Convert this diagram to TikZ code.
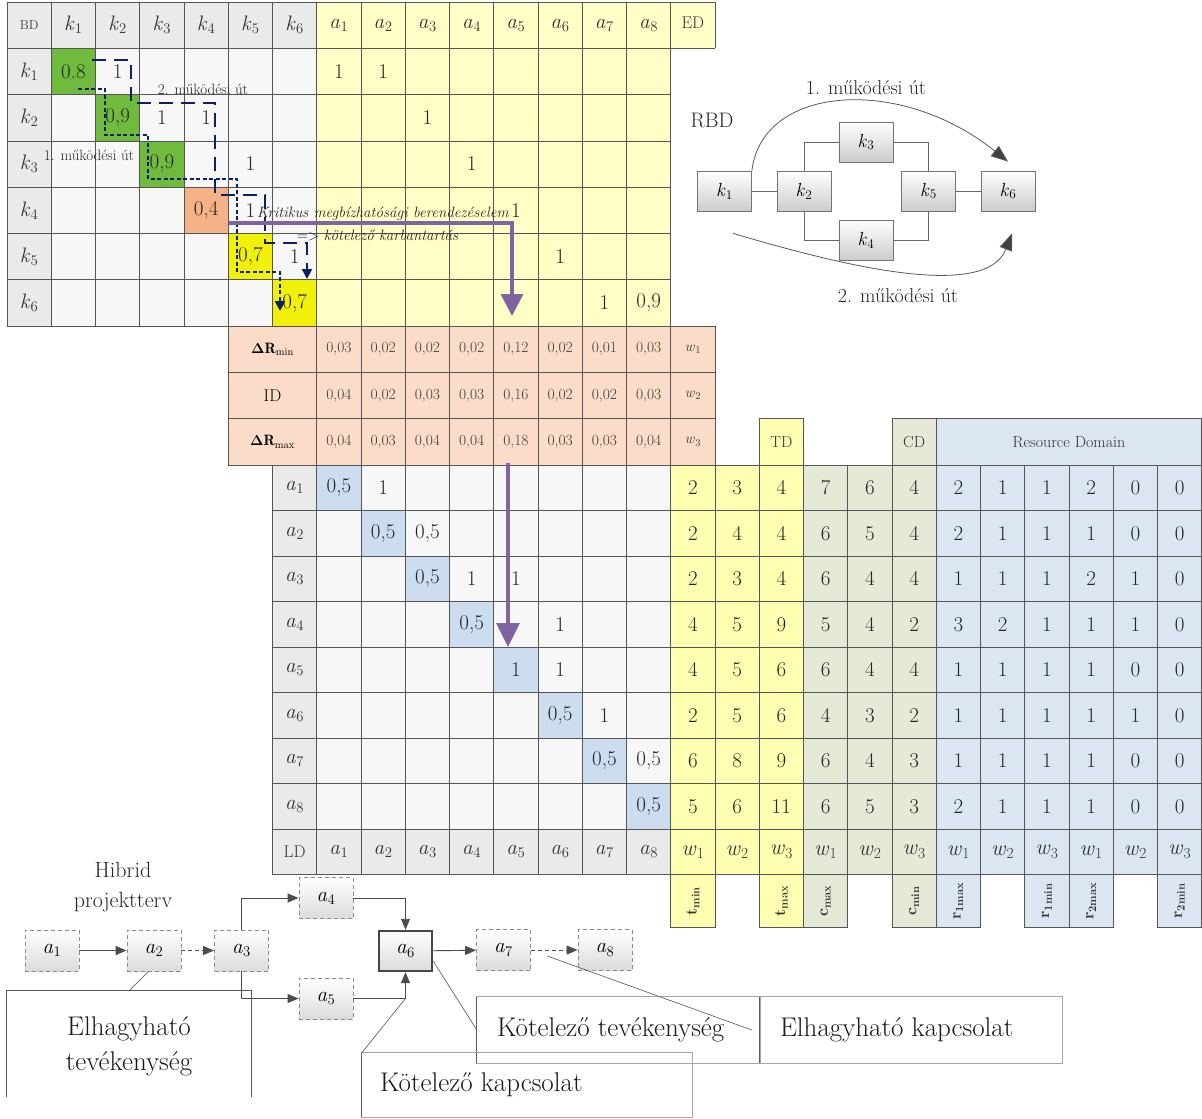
\documentclass[tikz,border=0pt]{standalone}
\usepackage{fontspec}
\usepackage{amsmath}
\usetikzlibrary{arrows.meta,calc}
\definecolor{yel}{RGB}{255,255,198}
\definecolor{yelT}{RGB}{255,255,178}
\definecolor{grn}{RGB}{112,186,62}
\definecolor{org}{RGB}{244,178,134}
\definecolor{yelB}{RGB}{240,240,10}
\definecolor{peach}{RGB}{250,220,200}
\definecolor{cgr}{RGB}{229,233,214}
\definecolor{rbl}{RGB}{219,230,242}
\definecolor{dbl}{RGB}{204,221,240}
\definecolor{purp}{RGB}{128,100,162}
\definecolor{navy}{RGB}{12,32,100}
\definecolor{hdr}{RGB}{234,234,234}
\definecolor{cel}{RGB}{247,247,247}
\definecolor{gl}{RGB}{85,85,85}
\newcommand\fs[1]{\fontsize{#1}{#1}\selectfont}
\newcommand\fsl[2]{\fontsize{#1}{#2}\selectfont}
\newcommand\ix[2]{\textit{#1}\kern0.3pt\textsubscript{#2}}
\newcommand\bx[2]{\textbf{#1}\textsubscript{\bfseries #2}}
\newcommand\colX[1]{(7+44.25*(#1))}
\newcommand\topY[1]{(2+46.3*(#1))}
\newcommand\lowY[1]{(465+45.5*(#1))}
\newcommand\tval[3]{\node[num] (t-#1-#2) at ({\colX{#2+0.5}},{\topY{#1+0.5}}) {#3};}
\newcommand\lval[3]{\node[num] (l-#1-#2) at ({\colX{#2+0.5}},{\lowY{#1+0.5}}) {#3};}
\begin{document}
\begin{tikzpicture}[x=1pt,y=-1pt,
  gridl/.style={draw=gl, line width=0.8pt},
  num/.style={font=\fs{21}, text=black!85, inner sep=0pt},
  hd/.style={font=\fs{21}, text=black!80, inner sep=0pt},
  dr/.style={font=\fs{15.5}, text=black!75, inner sep=0pt},
  rot/.style={rotate=90, font=\fs{16}, text=black!80, inner sep=0pt},
  nbox/.style={draw=black!45, dash pattern=on 4pt off 3pt, line width=0.9pt, top color=white, bottom color=black!14, minimum width=54pt, minimum height=41pt, inner sep=0pt, font=\fs{21}},
  rbox/.style={draw=black!55, line width=0.8pt, top color=white, bottom color=black!20, minimum width=54pt, minimum height=40pt, inner sep=0pt, font=\fs{19}},
  narr/.style={draw=black!70, line width=0.9pt, -{Triangle[length=11pt,width=9pt]}},
  rarr/.style={draw=black!65, line width=0.8pt, -{Triangle[length=17pt,width=13pt,fill=black!75]}},
  cline/.style={draw=black!60, line width=0.7pt},
  ctext/.style={font=\fs{27}, text=black!90, inner sep=0pt}
]
\useasboundingbox (0,0) rectangle (1202,1119);
\fill[white] (0,0) rectangle (1202,1119);

% ---------------- top matrix ----------------
\fill[hdr] ({\colX{0}},{\topY{0}}) rectangle ({\colX{7}},{\topY{1}});
\fill[hdr] ({\colX{0}},{\topY{1}}) rectangle ({\colX{1}},{\topY{7}});
\fill[cel] ({\colX{1}},{\topY{1}}) rectangle ({\colX{7}},{\topY{7}});
\fill[yel] ({\colX{7}},{\topY{0}}) rectangle ({\colX{15}},{\topY{7}});
\fill[yel] ({\colX{15}},{\topY{0}}) rectangle ({\colX{16}},{\topY{1}});
\foreach \i/\cc in {1/grn,2/grn,3/grn,4/org,5/yelB,6/yelB}
  \fill[\cc] ({\colX{\i}},{\topY{\i}}) rectangle ({\colX{\i+1}},{\topY{\i+1}});
\foreach \c in {0,...,15} \draw[gridl] ({\colX{\c}},{\topY{0}}) -- ({\colX{\c}},{\topY{7}});
\draw[gridl] ({\colX{16}},{\topY{0}}) -- ({\colX{16}},{\topY{1}});
\foreach \r in {0,...,7} \draw[gridl] ({\colX{0}},{\topY{\r}}) -- ({\colX{15}},{\topY{\r}});
\draw[gridl] ({\colX{15}},{\topY{0}}) -- ({\colX{16}},{\topY{0}});
\draw[gridl] ({\colX{15}},{\topY{1}}) -- ({\colX{16}},{\topY{1}});

% ---------------- Delta R rows ----------------
\fill[peach] ({\colX{5}},{\topY{7}}) rectangle ({\colX{16}},{\topY{10}});
\foreach \c in {5,7,8,...,16} \draw[gridl] ({\colX{\c}},{\topY{7}}) -- ({\colX{\c}},{\topY{10}});
\foreach \r in {7,...,10} \draw[gridl] ({\colX{5}},{\topY{\r}}) -- ({\colX{16}},{\topY{\r}});

% ---------------- right header row ----------------
\filldraw[fill=yelT,gridl] ({\colX{17}},{\topY{9}}) rectangle ({\colX{18}},{\topY{10}});
\filldraw[fill=cgr,gridl] ({\colX{20}},{\topY{9}}) rectangle ({\colX{21}},{\topY{10}});
\filldraw[fill=rbl,gridl] ({\colX{21}},{\topY{9}}) rectangle ({\colX{27}},{\topY{10}});

% ---------------- lower matrix ----------------
\fill[hdr] ({\colX{6}},{\lowY{0}}) rectangle ({\colX{7}},{\lowY{9}});
\fill[cel] ({\colX{7}},{\lowY{0}}) rectangle ({\colX{15}},{\lowY{8}});
\fill[hdr] ({\colX{7}},{\lowY{8}}) rectangle ({\colX{15}},{\lowY{9}});
\fill[yelT] ({\colX{15}},{\lowY{0}}) rectangle ({\colX{18}},{\lowY{9}});
\fill[cgr] ({\colX{18}},{\lowY{0}}) rectangle ({\colX{21}},{\lowY{9}});
\fill[rbl] ({\colX{21}},{\lowY{0}}) rectangle ({\colX{27}},{\lowY{9}});
\foreach \i in {0,...,7}
  \fill[dbl] ({\colX{7+\i}},{\lowY{\i}}) rectangle ({\colX{8+\i}},{\lowY{\i+1}});
\foreach \c in {6,...,27} \draw[gridl] ({\colX{\c}},{\lowY{0}}) -- ({\colX{\c}},{\lowY{9}});
\foreach \r in {0,...,9} \draw[gridl] ({\colX{6}},{\lowY{\r}}) -- ({\colX{27}},{\lowY{\r}});
\foreach \c/\cc in {15/yelT,17/yelT,18/cgr,20/cgr,21/rbl,23/rbl,24/rbl,26/rbl}
  \filldraw[fill=\cc,gridl] ({\colX{\c}},{\lowY{9}}) rectangle ({\colX{\c+1}},927);

% ---------------- top texts ----------------
\node[font=\fs{13}, text=black!75, inner sep=0pt] (bd) at ({\colX{0.5}},{\topY{0.5}}) {BD};
\foreach \i in {1,...,6} \node[hd] (hk\i) at ({\colX{\i+0.5}},{\topY{0.5}}) {\ix{k}{\i}};
\foreach \i in {1,...,8} \node[hd] (ha\i) at ({\colX{\i+6.5}},{\topY{0.5}}) {\ix{a}{\i}};
\node[font=\fs{17}, text=black!80, inner sep=0pt] (ed) at ({\colX{15.5}},{\topY{0.45}}) {ED};
\foreach \i in {1,...,6} \node[hd] (rk\i) at ({\colX{0.5}},{\topY{\i+0.5}}) {\ix{k}{\i}};
\tval{1}{1}{0.8} \tval{1}{2}{1} \tval{1}{7}{1} \tval{1}{8}{1}
\tval{2}{2}{0,9} \tval{2}{3}{1} \tval{2}{4}{1} \tval{2}{9}{1}
\tval{3}{3}{0,9} \tval{3}{5}{1} \tval{3}{10}{1}
\tval{4}{4}{0,4} \tval{4}{5}{1} \tval{4}{11}{1}
\tval{5}{5}{0,7} \tval{5}{6}{1} \tval{5}{12}{1}
\tval{6}{6}{0,7} \tval{6}{13}{1} \tval{6}{14}{0,9}

% ---------------- Delta R texts ----------------
\node[font=\fs{15}, inner sep=0pt] (drmin) at ({\colX{6}},{\topY{7.5}}) {$\boldsymbol{\Delta}\mathbf{R}_{\mathrm{min}}$};
\node[font=\fs{17}, inner sep=0pt] (idl) at ({\colX{6}},{\topY{8.5}}) {ID};
\node[font=\fs{15}, inner sep=0pt] (drmax) at ({\colX{6}},{\topY{9.5}}) {$\boldsymbol{\Delta}\mathbf{R}_{\mathrm{max}}$};
\foreach \v [count=\c from 7] in {{0,03},{0,02},{0,02},{0,02},{0,12},{0,02},{0,01},{0,03}}
  \node[dr] (d7-\c) at ({\colX{\c+0.5}},{\topY{7.5}}) {\v};
\foreach \v [count=\c from 7] in {{0,04},{0,02},{0,03},{0,03},{0,16},{0,02},{0,02},{0,03}}
  \node[dr] (d8-\c) at ({\colX{\c+0.5}},{\topY{8.5}}) {\v};
\foreach \v [count=\c from 7] in {{0,04},{0,03},{0,04},{0,04},{0,18},{0,03},{0,03},{0,04}}
  \node[dr] (d9-\c) at ({\colX{\c+0.5}},{\topY{9.5}}) {\v};
\foreach \i in {1,2,3} \node[font=\fs{15}, text=black!75, inner sep=0pt] (dw\i) at ({\colX{15.5}},{\topY{6.5+\i}}) {\ix{w}{\i}};

% right header texts
\node[font=\fs{16}, text=black!80, inner sep=0pt] (td) at ({\colX{17.5}},{\topY{9.5}}) {TD};
\node[font=\fs{16}, text=black!80, inner sep=0pt] (cd) at ({\colX{20.5}},{\topY{9.5}}) {CD};
\node[font=\fs{16}, text=black!80, inner sep=0pt] (rd) at ({\colX{24}},{\topY{9.5}}) {Resource Domain};

% ---------------- lower texts ----------------
\foreach \i in {1,...,8} \node[hd] (la\i) at ({\colX{6.5}},{\lowY{\i-0.5}}) {\ix{a}{\i}};
\node[font=\fs{17}, text=black!80, inner sep=0pt] (ld) at ({\colX{6.5}},{\lowY{8.5}}) {LD};
\foreach \i in {1,...,8} \node[hd] (ba\i) at ({\colX{\i+6.5}},{\lowY{8.5}}) {\ix{a}{\i}};
\foreach \j [count=\c from 15] in {1,2,3,1,2,3,1,2,3,1,2,3}
  \node[font=\fs{22}, text=black!80, inner sep=0pt] (bw\c) at ({\colX{\c+0.5}},{\lowY{8.5}}) {\ix{w}{\j}};
\lval{0}{7}{0,5} \lval{0}{8}{1}
\lval{1}{8}{0,5} \lval{1}{9}{0,5}
\lval{2}{9}{0,5} \lval{2}{10}{1} \lval{2}{11}{1}
\lval{3}{10}{0,5} \lval{3}{12}{1}
\lval{4}{11}{1} \lval{4}{12}{1}
\lval{5}{12}{0,5} \lval{5}{13}{1}
\lval{6}{13}{0,5} \lval{6}{14}{0,5}
\lval{7}{14}{0,5}
\foreach \row [count=\r from 0] in {{2,3,4,7,6,4,2,1,1,2,0,0},{2,4,4,6,5,4,2,1,1,1,0,0},{2,3,4,6,4,4,1,1,1,2,1,0},{4,5,9,5,4,2,3,2,1,1,1,0},{4,5,6,6,4,4,1,1,1,1,0,0},{2,5,6,4,3,2,1,1,1,1,1,0},{6,8,9,6,4,3,1,1,1,1,0,0},{5,6,11,6,5,3,2,1,1,1,0,0}}
  \foreach \v [count=\c from 15] in \row
    \node[num] (v-\r-\c) at ({\colX{\c+0.5}},{\lowY{\r+0.5}}) {\v};
\node[rot] (tmin) at ({\colX{15.5}},901) {\bx{t}{min}};
\node[rot] (tmax) at ({\colX{17.5}},901) {\bx{t}{max}};
\node[rot] (cmax) at ({\colX{18.5}},901) {\bx{c}{max}};
\node[rot] (cmin) at ({\colX{20.5}},901) {\bx{c}{min}};
\node[rot] (r1max) at ({\colX{21.5}},901) {\bx{r}{1max}};
\node[rot] (r1min) at ({\colX{23.5}},901) {\bx{r}{1min}};
\node[rot] (r2max) at ({\colX{24.5}},901) {\bx{r}{2max}};
\node[rot] (r2min) at ({\colX{26.5}},901) {\bx{r}{2min}};

% ---------------- annotations in matrix ----------------
\node[font=\fs{15}, text=black!85, inner sep=0pt] (m2) at (203,89) {2. működési út};
\node[font=\fs{15}, text=black!85, inner sep=0pt] (m1) at (89,155) {1. működési út};
\node[font=\fs{15}\itshape, text=black!85, anchor=base west, inner sep=0pt] (krit) at (257,217) {Kritikus megbízhatósági berendezéselem};
\node[font=\fs{15}, text=black!85, anchor=base west, inner sep=0pt] (krit2) at (297,240) {=> \textit{kötelező karbantartás}};
\draw[navy, line width=2.2pt, dash pattern=on 4pt off 2.5pt, -{Triangle[length=10pt,width=10pt]}]
  (78,89) -| (105,135) -| (148,179) -| (237,272) -| (280,311);
\draw[navy, line width=2pt, dash pattern=on 14pt off 8pt, -{Triangle[length=10pt,width=10pt]}]
  (92,60) -| (131,103) -| (215,195) -| (265,243) -| (307,279);
\draw[purp, line width=3.5pt, -{Triangle[length=22pt,width=22pt]}] (229,223) -| (512,316);
\draw[purp, line width=3.5pt, -{Triangle[length=24pt,width=23pt]}] (508,463) -- (508,647);

% ---------------- RBD ----------------
\node[font=\fs{21}, text=black!85, inner sep=0pt] (rbdl) at (712,120) {RBD};
\node[rbox] (k1) at (724.5,191) {\ix{k}{1}};
\node[rbox] (k2) at (804,191) {\ix{k}{2}};
\node[rbox] (k3) at (866,142) {\ix{k}{3}};
\node[rbox] (k4) at (866,240) {\ix{k}{4}};
\node[rbox] (k5) at (928.5,191) {\ix{k}{5}};
\node[rbox] (k6) at (1008,191) {\ix{k}{6}};
\draw[black!60, line width=0.8pt] (k1) -- (k2);
\draw[black!60, line width=0.8pt] (k2.north) |- (k3.west);
\draw[black!60, line width=0.8pt] (k3.east) -| (k5.north);
\draw[black!60, line width=0.8pt] (k2.south) |- (k4.west);
\draw[black!60, line width=0.8pt] (k4.east) -| (k5.south);
\draw[black!60, line width=0.8pt] (k5) -- (k6);
\coordinate (c2s) at ([xshift=8.5pt,yshift=-22pt]k1.south);
\coordinate (c2e) at ([xshift=4pt,yshift=-22pt]k6.south);
\coordinate (c1e) at ([yshift=9pt]k6.north);
\draw[rarr] (k1.north east) .. controls (762,85) and (900,75) .. (c1e);
\draw[rarr] (c2s) .. controls (830,262) and (985,303) .. (c2e);
\node[font=\fs{20}, text=black!85, inner sep=0pt] (p1) at (866,88) {1. működési út};
\node[font=\fs{20}, text=black!85, inner sep=0pt] (p2) at (898,296) {2. működési út};

% ---------------- network ----------------
\node[font=\fsl{22}{30}, text=black!85, align=center, inner sep=0pt] (hib) at (123,887) {Hibrid\\projektterv};
\node[nbox] (a1) at (52,950.5) {\ix{a}{1}};
\node[nbox] (a2) at (154,950.5) {\ix{a}{2}};
\node[nbox] (a3) at (241.5,950.5) {\ix{a}{3}};
\node[nbox] (a4) at (326,898) {\ix{a}{4}};
\node[nbox] (a5) at (326,998.5) {\ix{a}{5}};
\node[nbox, solid, draw=black!72, line width=2.4pt, minimum width=53pt, minimum height=40pt] (a6) at (405.5,951) {\ix{a}{6}};
\node[nbox] (a7) at (503.5,950) {\ix{a}{7}};
\node[nbox] (a8) at (605,950) {\ix{a}{8}};
\draw[narr, line width=1.6pt] (a1) -- (a2);
\draw[narr, dash pattern=on 4pt off 3pt] (a2) -- (a3);
\draw[narr] (a3.north) |- (a4.west);
\draw[narr] (a3.south) |- (a5.west);
\draw[narr] (a4.east) -| (a6.north);
\draw[narr] (a5.east) -| (a6.south);
\draw[narr] (a6) -- (a7);
\draw[narr, dash pattern=on 4pt off 3pt] (a7) -- (a8);

% callouts
\node[minimum width=244pt, minimum height=106pt, inner sep=0pt] (el) at (129,1044) {};
\draw[black!65, line width=0.9pt] (el.south west) -- (el.north west) -- (el.north east) -- (el.south east);
\node[font=\fsl{27}{35}, text=black!90, align=center, inner sep=0pt] (elt) at ([yshift=-2pt]el.center) {Elhagyható\\tevékenység};
\draw[cline] (a2.-105) -- (el.north);

\node[minimum width=283pt, minimum height=66pt, inner sep=0pt] (kt) at (618.5,1030) {};
\draw[black!35, line width=0.8pt] (kt.south west) rectangle (kt.north east);
\draw[black!65, line width=0.9pt] (kt.south west) -- (kt.north west);
\node[ctext, anchor=west] (ktt) at ([xshift=20pt]kt.west) {Kötelező tevékenység};

\node[minimum width=302pt, minimum height=66pt, inner sep=0pt] (ek) at (911,1030) {};
\draw[black!35, line width=0.8pt] (ek.south west) rectangle (ek.north east);
\draw[black!65, line width=0.9pt] (ek.south west) -- (ek.north west);
\node[ctext, anchor=west] (ekt) at ([xshift=20pt]ek.west) {Elhagyható kapcsolat};

\node[minimum width=330pt, minimum height=64pt, inner sep=0pt] (kk) at (527,1085) {};
\draw[black!35, line width=0.8pt] (kk.south west) rectangle (kk.north east);
\draw[black!65, line width=0.9pt] (kk.south west) -- (kk.north west);
\node[ctext, anchor=west] (kkt) at ([xshift=18pt]kk.west) {Kötelező kapcsolat};

\draw[cline] (a6.-20) -- (kt.west);
\coordinate (j56) at (a6.south |- a5.east);
\draw[cline] (j56) -- (kk.north west);
\path (a7.east) -- (a8.west) coordinate[pos=0.35] (m78);
\draw[cline] ([yshift=-6pt]m78) -- ([xshift=-8pt]ek.west);
\end{tikzpicture}
\end{document}
